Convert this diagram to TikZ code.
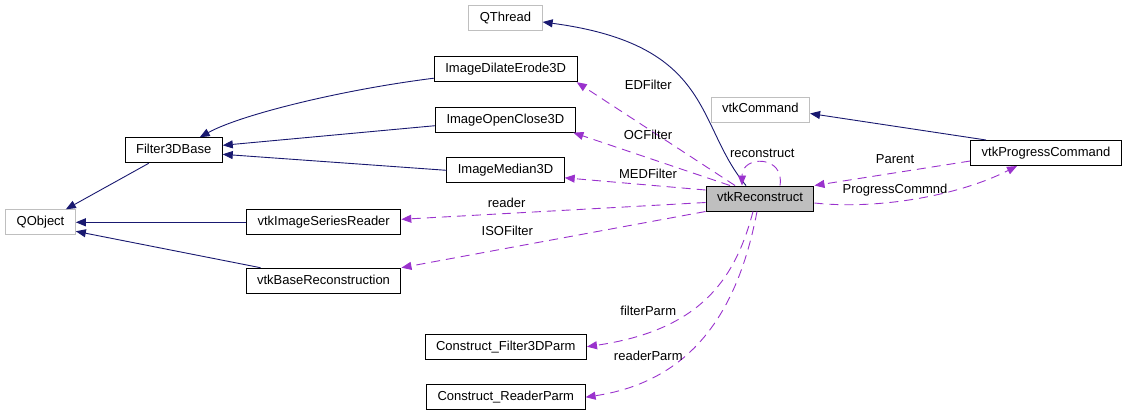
\documentclass[tikz,border=0pt]{standalone}
\usepackage{fontspec}
\setmainfont{Liberation Sans}
\usetikzlibrary{arrows.meta}
\definecolor{inhcol}{HTML}{191970}
\definecolor{usecol}{HTML}{9A32CD}
\definecolor{boxgray}{HTML}{BFBFBF}

\begin{document}
\begin{tikzpicture}[x=1pt,y=-1pt,
  every node/.style={font=\fontsize{13}{15}\selectfont},
  cls/.style={draw=black,line width=1pt,minimum height=25pt,inner xsep=11pt,inner ysep=0pt,text height=9.4pt,text depth=2.7pt},
  ext/.style={cls,draw=boxgray},
  inherit/.style={draw=inhcol,line width=0.9pt,-{Triangle[length=10pt,width=8pt]}},
  member/.style={draw=usecol,line width=0.9pt,dash pattern=on 9pt off 6pt,-{Triangle[length=10pt,width=8pt]}},
  lbl/.style={inner sep=0pt,text height=9.4pt,text depth=0pt}]
\useasboundingbox (0,0) rectangle (1127,416);
% classes
\node[ext] (qth) at (505.5,18) {QThread};
\node[cls] (ide) at (505.7,69.2) {ImageDilateErode3D};
\node[cls] (ioc) at (505.4,119.7) {ImageOpenClose3D};
\node[cls] (imed) at (505.5,170.3) {ImageMedian3D};
\node[cls,fill=boxgray] (rec) at (760,198.5) {vtkReconstruct};
\node[ext] (vcmd) at (760.3,109.5) {vtkCommand};
\node[cls] (vpc) at (1046,153) {vtkProgressCommand};
\node[cls] (f3d) at (173.7,150.3) {Filter3DBase};
\node[ext] (qobj) at (40.5,222.3) {QObject};
\node[cls] (isr) at (323.7,222.3) {vtkImageSeriesReader};
\node[cls] (vbr) at (323.5,280.7) {vtkBaseReconstruction};
\node[cls] (cfp) at (505.8,346.7) {Construct\_Filter3DParm};
\node[cls] (crp) at (505.8,397.2) {Construct\_ReaderParm};
% inheritance
\draw[inherit] ([xshift=-25pt]f3d.south) -- ([xshift=-10pt]qobj.north east);
\draw[inherit] ([yshift=-9pt]ide.west) .. controls (340,90) and (240,115) .. ([xshift=26pt]f3d.north);
\draw[inherit] ([yshift=-6pt]ioc.west) -- ([yshift=5pt]f3d.east);
\draw[inherit] (imed.west) -- ([yshift=-4pt]f3d.east);
\draw[inherit] (isr.west) -- (qobj.east);
\draw[inherit] ([xshift=-63pt]vbr.north) -- ([yshift=-9pt]qobj.east);
\draw[inherit] ([xshift=-14pt]rec.north) .. controls (695,125) and (715,45) .. ([yshift=-4pt]qth.east);
\draw[inherit] ([xshift=-60pt]vpc.north) -- ([yshift=-4pt]vcmd.east);
% members
\draw[member] ([xshift=-25pt]rec.north) -- ([xshift=71pt]ide.south);
\draw[member] ([xshift=-30pt]rec.north) -- ([xshift=68pt]ioc.south);
\draw[member] ([yshift=8.5pt]rec.west) -- ([yshift=-7.5pt]imed.east);
\draw[member] ([yshift=-4pt]rec.west) -- ([yshift=3pt]isr.east);
\draw[member] (rec.south west) -- (vbr.north east);
\draw[member] ([xshift=-7pt]rec.south) .. controls (735,280) and (700,330) .. (cfp.east);
\draw[member] ([xshift=-3pt]rec.south) .. controls (740,300) and (700,380) .. (crp.east);
\draw[member] ([xshift=20pt]rec.north) .. controls (785,155) and (742,155) .. ([xshift=-18pt]rec.north);
\draw[member] ([yshift=-8pt]vpc.west) -- (rec.north east);
\draw[member] ([yshift=-4.5pt]rec.east) .. controls (880,210) and (960,195) .. ([xshift=-29pt]vpc.south);
% labels
\node[lbl] (lED) at (648.3,85) {EDFilter};
\node[lbl] (lOC) at (648,134.3) {OCFilter};
\node[lbl] (lMED) at (648,174) {MEDFilter};
\node[lbl] (lrd) at (506.7,202.3) {reader};
\node[lbl] (lISO) at (507.3,230.7) {ISOFilter};
\node[lbl] (lfp) at (648.3,310.7) {filterParm};
\node[lbl] (lrp) at (648.3,355.7) {readerParm};
\node[lbl] (lrec) at (762.3,152.3) {reconstruct};
\node[lbl] (lpar) at (895,159) {Parent};
\node[lbl] (lpc) at (895,188.3) {ProgressCommnd};
\end{tikzpicture}
\end{document}
